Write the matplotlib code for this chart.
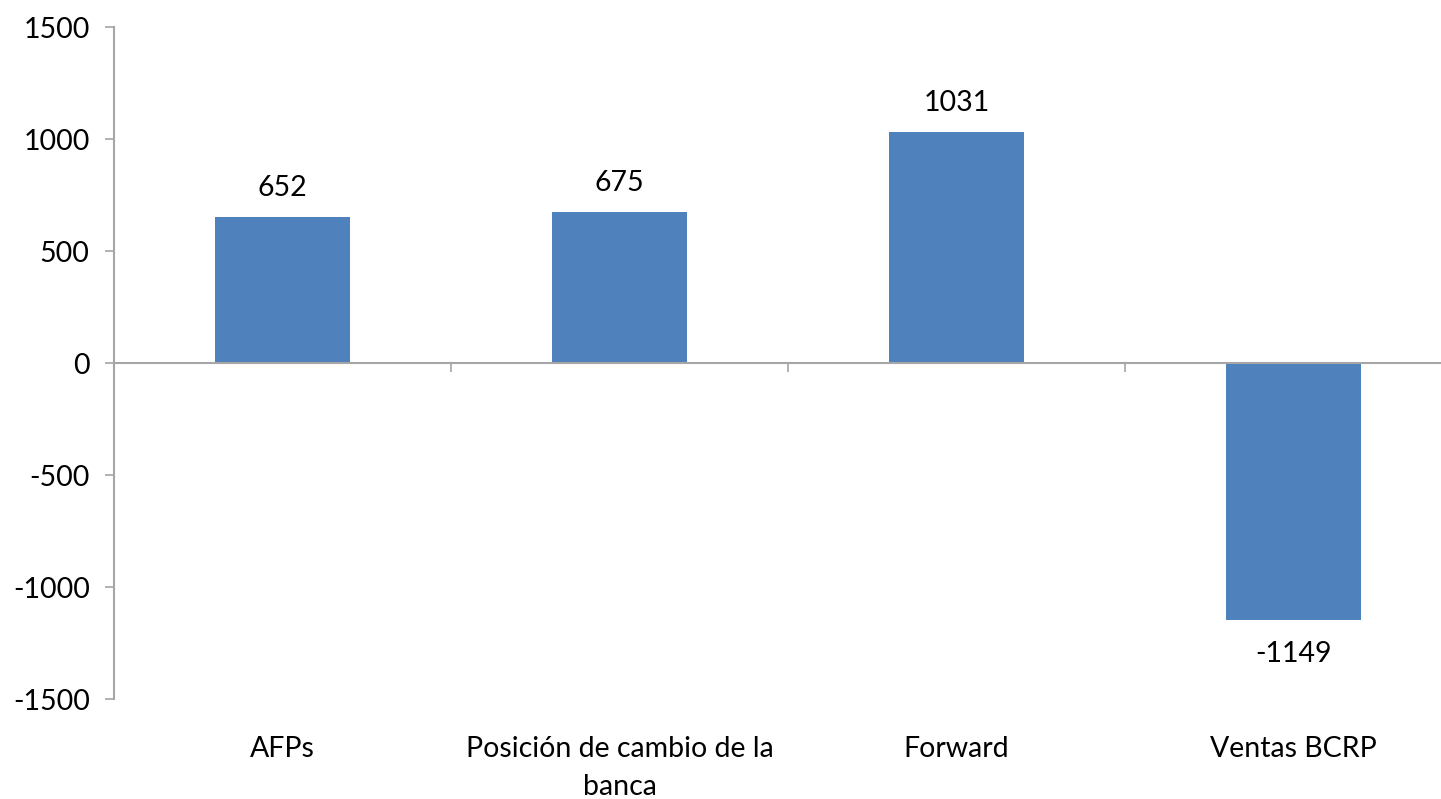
import matplotlib
matplotlib.use("Agg")
import matplotlib.pyplot as plt
from matplotlib.transforms import blended_transform_factory

categories = ["AFPs", "Posición de cambio de la\nbanca", "Forward", "Ventas BCRP"]
values = [652, 675, 1031, -1149]
y_ticks = [-1500, -1000, -500, 0, 500, 1000, 1500]

plt.rcParams["font.family"] = ["Lato", "DejaVu Sans"]
axis_gray = "#A6A6A6"
bar_color = "#4F81BD"
fs = 20.5

fig = plt.figure(figsize=(14.41, 7.99), dpi=100)
# plot area runs slightly past the right edge of the canvas
ax = fig.add_axes([114 / 1441, 1 - 699 / 799, 1348 / 1441, (699 - 27) / 799])

x = list(range(len(categories)))
ax.bar(x, values, width=0.40, color=bar_color, zorder=2)

ax.set_xlim(-0.5, len(categories) - 0.5)
ax.set_ylim(y_ticks[0], y_ticks[-1])
ax.set_yticks(y_ticks)
ax.set_yticklabels([str(v) for v in y_ticks], fontsize=fs)

for side in ("top", "right"):
    ax.spines[side].set_visible(False)
ax.spines["left"].set_color(axis_gray)
ax.spines["left"].set_linewidth(1.5)
ax.spines["bottom"].set_position(("data", 0))
ax.spines["bottom"].set_color(axis_gray)
ax.spines["bottom"].set_linewidth(1.5)
ax.spines["bottom"].set_zorder(3)

ax.tick_params(axis="y", direction="out", length=6.5, width=1.2, color=axis_gray, pad=11)
ax.set_xticks([i + 0.5 for i in x[:-1]])
ax.set_xticklabels([])
ax.tick_params(axis="x", direction="out", length=6.5, width=1.2, color=axis_gray)

# value labels
for xi, v in zip(x, values):
    if v >= 0:
        ax.annotate(str(v), (xi, v), xytext=(0, 21), textcoords="offset points",
                    ha="center", va="center", fontsize=fs)
    else:
        ax.annotate(str(v), (xi, v), xytext=(0, -24), textcoords="offset points",
                    ha="center", va="center", fontsize=fs)

# category labels along the bottom of the plot area
trans = blended_transform_factory(ax.transData, ax.transAxes)
for xi, c in zip(x, categories):
    ax.text(xi, -0.055, c, transform=trans, ha="center", va="top",
            fontsize=fs, linespacing=1.55)

fig.savefig("out.png", dpi=100)
